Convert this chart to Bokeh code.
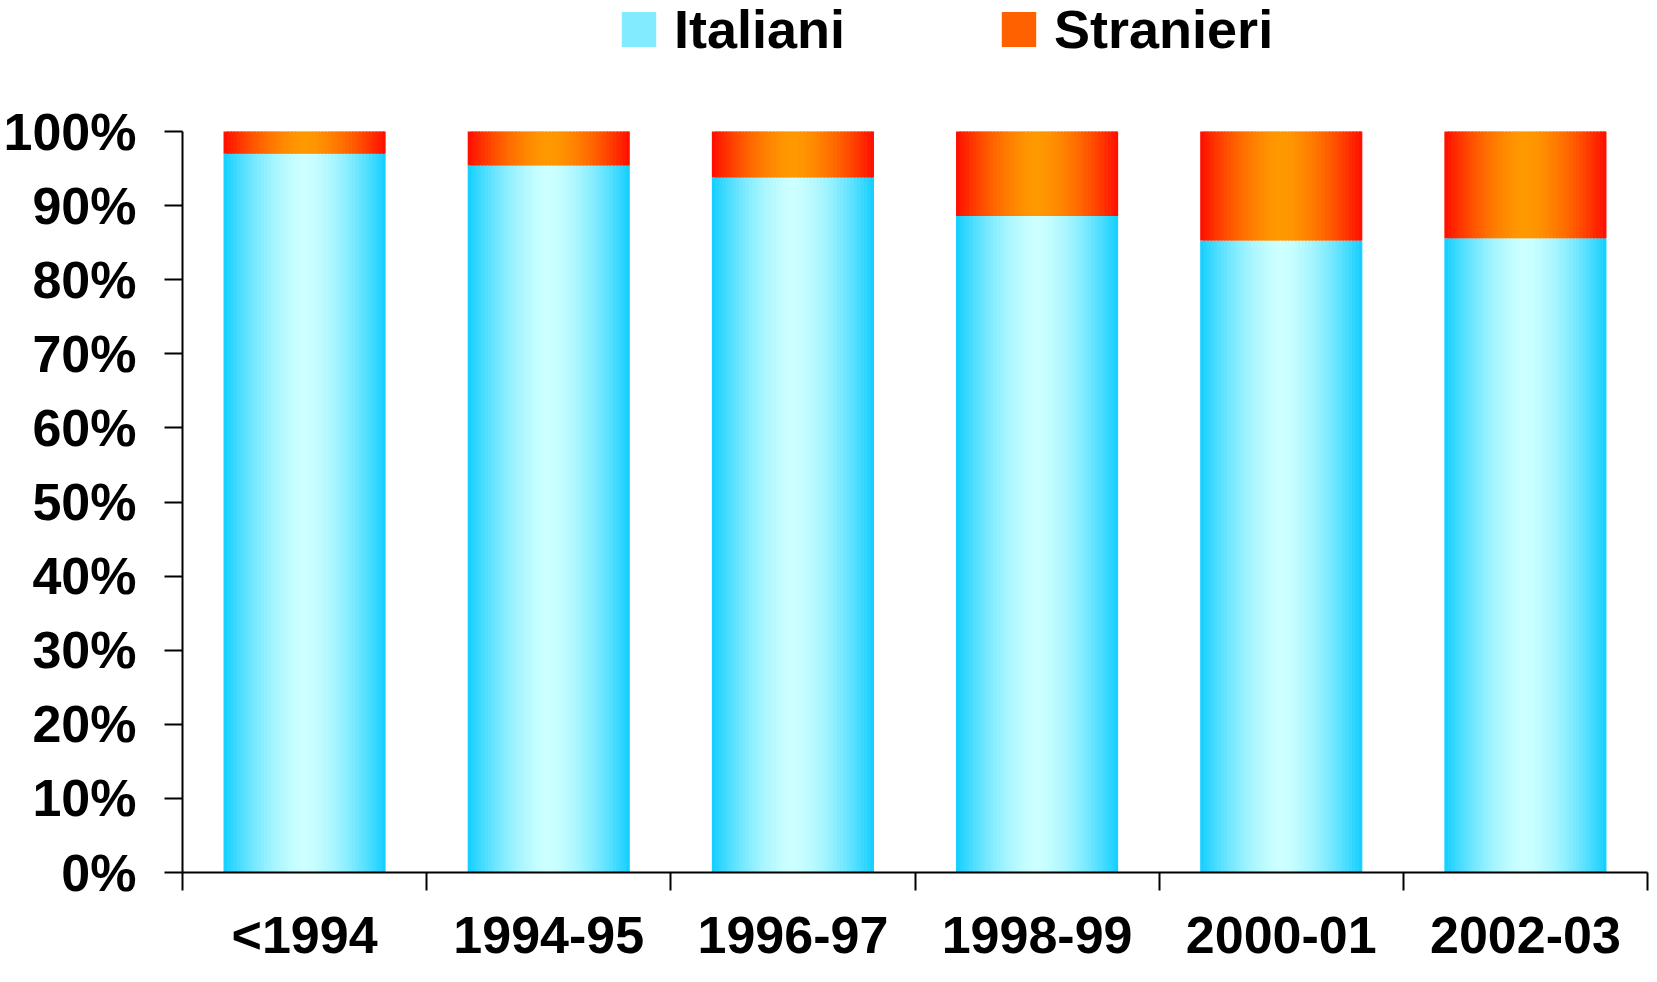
from bokeh.plotting import figure
from bokeh.models import (Range1d, FixedTicker, Legend, LegendItem, ColumnDataSource,
                          PrintfTickFormatter)
from bokeh.embed import file_html
from bokeh.resources import INLINE

# ---- data ----
categories = ["<1994", "1994-95", "1996-97", "1998-99", "2000-01", "2002-03"]
italiani = [97.0, 95.4, 93.8, 88.6, 85.3, 85.6]
stranieri = [3.0, 4.6, 6.2, 11.4, 14.7, 14.4]
y_ticks = [0, 10, 20, 30, 40, 50, 60, 70, 80, 90, 100]

# ---- style / layout (pixels) ----
W, H = 1649, 966
AX_LEFT, AX_RIGHT = 182, 1647      # screen x of x=0 and x=n
AX_BOTTOM, AX_TOP = 872, 131       # screen y of 0% and 100%
FONT = "Liberation Sans"
BAR_W = 0.664
N_STRIPS = 48
GAMMA = 1.6
CYAN_EDGE = (18, 206, 255)
CYAN_MID = (204, 255, 255)
ORANGE_EDGE = (255, 12, 0)
ORANGE_MID = (255, 153, 0)
LEGEND_SWATCH_STRIP = 10

n = len(categories)
sx = (AX_RIGHT - AX_LEFT) / n
sy = (AX_BOTTOM - AX_TOP) / 100.0
x_range = Range1d(-AX_LEFT / sx, n + (W - AX_RIGHT) / sx)
y_range = Range1d(-(H - AX_BOTTOM) / sy, 100 + AX_TOP / sy)


def grad_color(edge, mid, pos):
    t = (abs(pos - 0.5) * 2.0) ** GAMMA
    c = [round(m + (e - m) * t) for e, m in zip(edge, mid)]
    return "#%02x%02x%02x" % tuple(c)


def strips(bottoms, tops, edge, mid):
    left, right, bot, top, col = [], [], [], [], []
    dw = BAR_W / N_STRIPS
    for i, (b, t) in enumerate(zip(bottoms, tops)):
        x_left = i + 0.5 - BAR_W / 2
        for k in range(N_STRIPS):
            x0 = x_left + k * dw
            x1 = x0 + dw * (1.6 if k < N_STRIPS - 1 else 1.0)
            left.append(x0)
            right.append(x1)
            bot.append(b)
            top.append(t)
            col.append(grad_color(edge, mid, (k + 0.5) / N_STRIPS))
    return ColumnDataSource(dict(left=left, right=right, bottom=bot, top=top, color=col))


ital_bottom = [0.0] * n
ital_top = list(italiani)
str_bottom = list(italiani)
str_top = [a + b for a, b in zip(italiani, stranieri)]

p = figure(width=W, height=H, x_range=x_range, y_range=y_range,
           output_backend="svg", toolbar_location=None,
           min_border_left=0, min_border_right=0, min_border_top=0, min_border_bottom=0)
p.title.visible = False
p.outline_line_color = None
p.xgrid.visible = False
p.ygrid.visible = False
p.background_fill_color = "white"
p.border_fill_color = "white"

src_it = strips(ital_bottom, ital_top, CYAN_EDGE, CYAN_MID)
src_st = strips(str_bottom, str_top, ORANGE_EDGE, ORANGE_MID)
r_it = p.quad(left="left", right="right", bottom="bottom", top="top", source=src_it,
              fill_color="color", line_color=None)
r_st = p.quad(left="left", right="right", bottom="bottom", top="top", source=src_st,
              fill_color="color", line_color=None)

# x axis
xa = p.xaxis[0]
centers = [i + 0.5 for i in range(n)]
xa.fixed_location = 0
xa.bounds = (0, n)
xa.ticker = FixedTicker(ticks=centers, minor_ticks=list(range(n + 1)))
xa.major_label_overrides = {c: lab for c, lab in zip(centers, categories)}
xa.major_tick_out = 0
xa.major_tick_in = 0
xa.minor_tick_out = 18
xa.minor_tick_in = 0
xa.minor_tick_line_width = 2
xa.minor_tick_line_color = "black"
xa.axis_line_width = 2
xa.axis_line_color = "black"
xa.major_label_standoff = 15
xa.major_label_text_font = FONT
xa.major_label_text_font_style = "bold"
xa.major_label_text_font_size = "52px"
xa.major_label_text_color = "black"

# y axis
ya = p.yaxis[0]
ya.fixed_location = 0
ya.bounds = (0, 100)
ya.ticker = FixedTicker(ticks=y_ticks, minor_ticks=[])
ya.formatter = PrintfTickFormatter(format="%d%%")
ya.major_tick_out = 18
ya.major_tick_in = 0
ya.major_tick_line_width = 2
ya.major_tick_line_color = "black"
ya.minor_tick_out = 0
ya.minor_tick_in = 0
ya.axis_line_width = 2
ya.axis_line_color = "black"
ya.major_label_standoff = 28
ya.major_label_text_font = FONT
ya.major_label_text_font_style = "bold"
ya.major_label_text_font_size = "52px"
ya.major_label_text_color = "black"

legend = Legend(items=[LegendItem(label="Italiani", renderers=[r_it], index=LEGEND_SWATCH_STRIP),
                       LegendItem(label="Stranieri", renderers=[r_st], index=LEGEND_SWATCH_STRIP)],
                location=(617, 906), orientation="horizontal",
                glyph_width=43, glyph_height=44, label_standoff=14, spacing=152,
                padding=0, margin=0,
                border_line_color=None, background_fill_alpha=0,
                label_text_font=FONT, label_text_font_style="bold",
                label_text_font_size="54px", label_text_color="black")
p.add_layout(legend)

open("out.html", "w").write(file_html(p, INLINE))
